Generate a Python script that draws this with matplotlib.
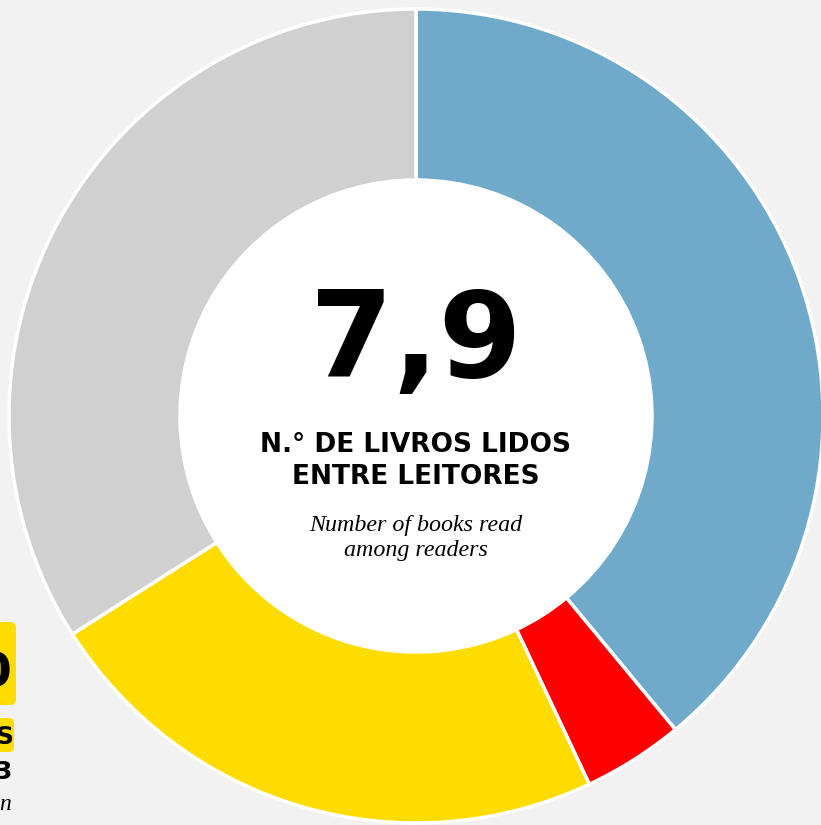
import matplotlib
matplotlib.use("Agg")
import matplotlib.pyplot as plt
from matplotlib.patches import FancyBboxPatch

# share of readers by number of books (clockwise from the top)
categories = ["A", "B", "C", "D"]
shares = [39, 4, 23, 34]
colors = ["#70aacb", "#ff0000", "#ffdc00", "#d0d0d0"]

big_value = "7,9"
title_pt = "N.° DE LIVROS LIDOS\nENTRE LEITORES"
title_en = "Number of books read\namong readers"

W, H = 821, 825
fig = plt.figure(figsize=(W / 100, H / 100), dpi=100, facecolor="#f2f2f2")
ax = fig.add_axes([0, 0, 1, 1])
ax.set_facecolor("#f2f2f2")

cx, cy = 416, H - 416
r_out, r_in = 407, 236
ax.pie(shares, colors=colors, startangle=90, counterclock=False,
       center=(cx, cy), radius=r_out, frame=True,
       wedgeprops=dict(width=r_out - r_in, edgecolor="white", linewidth=2.5))
ax.set_xlim(0, W)
ax.set_ylim(0, H)
ax.set_aspect("equal")
ax.axis("off")

# centre disc
ax.add_patch(plt.Circle((cx, cy), r_in, color="white", zorder=3))

ax.text(cx, H - 344, big_value, ha="center", va="center", fontsize=86,
        fontweight="heavy", family="DejaVu Sans", zorder=4)
ax.text(cx, H - 461, title_pt, ha="center", va="center", fontsize=19,
        fontweight="bold", family="DejaVu Sans", linespacing=1.25, zorder=4)
ax.text(cx, H - 538, title_en, ha="center", va="center", fontsize=17.3,
        style="italic", family="Liberation Serif", linespacing=1.2, zorder=4)

# neighbouring panel peeking in at the left edge
ax.add_patch(FancyBboxPatch((-40, H - 705), 56, 83, boxstyle="round,pad=0,rounding_size=6",
                            fc="#ffdc00", ec="none", zorder=2))
ax.add_patch(FancyBboxPatch((-40, H - 752), 54, 34, boxstyle="round,pad=0,rounding_size=5",
                            fc="#ffdc00", ec="none", zorder=2))
ax.text(12, H - 674, "0", ha="right", va="center", fontsize=34, fontweight="bold",
        family="DejaVu Sans", zorder=4)
ax.text(13, H - 737, "S", ha="right", va="center", fontsize=18, fontweight="bold",
        family="DejaVu Sans", zorder=4)
ax.text(12, H - 772, "3", ha="right", va="center", fontsize=18, fontweight="bold",
        family="DejaVu Sans", zorder=4)
ax.text(11, H - 805, "n", ha="right", va="center", fontsize=17, style="italic",
        family="Liberation Serif", zorder=4)

fig.savefig("out.png", dpi=100, facecolor=fig.get_facecolor())
